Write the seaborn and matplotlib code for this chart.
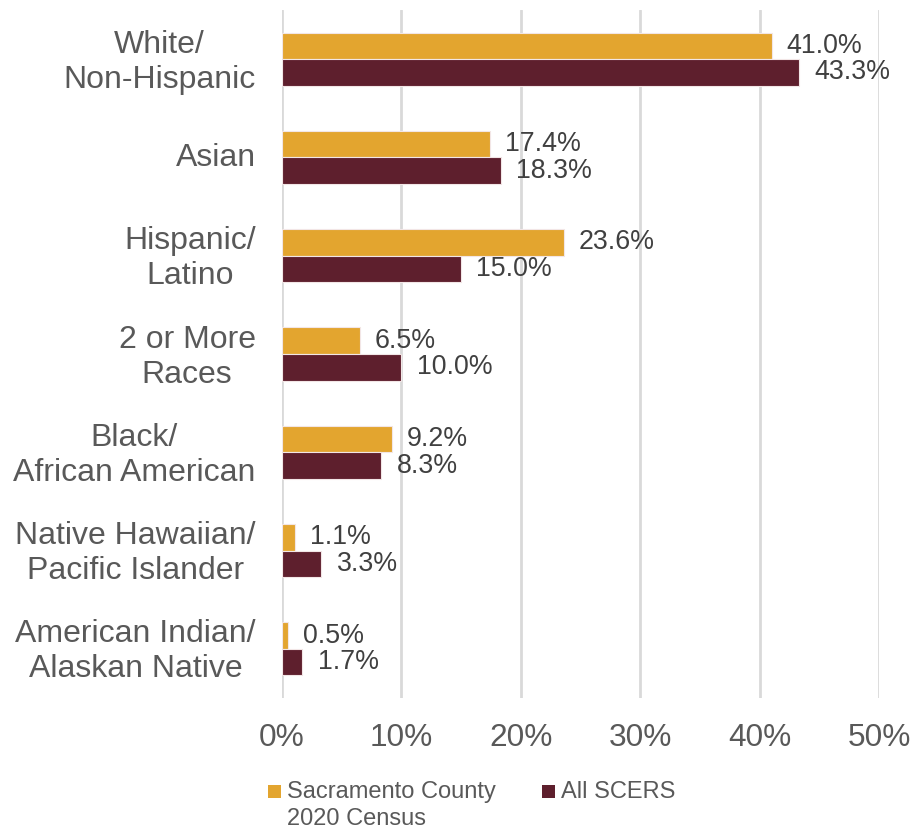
import matplotlib
matplotlib.use("Agg")
import matplotlib.pyplot as plt
import matplotlib.transforms as mtransforms
import seaborn as sns
import pandas as pd
from matplotlib.patches import Rectangle

categories = [
    "White/\nNon-Hispanic",
    "Asian",
    "Hispanic/\nLatino",
    "2 or More\nRaces",
    "Black/\nAfrican American",
    "Native Hawaiian/\nPacific Islander",
    "American Indian/\nAlaskan Native",
]
series_names = ["Sacramento County\n2020 Census", "All SCERS"]
county_pct = [41.0, 17.4, 23.6, 6.5, 9.2, 1.1, 0.5]
scers_pct = [43.3, 18.3, 15.0, 10.0, 8.3, 3.3, 1.7]
x_ticks = [0, 10, 20, 30, 40, 50]
x_tick_labels = ["0%", "10%", "20%", "30%", "40%", "50%"]

colors = ["#E3A52F", "#5E1F2D"]

df = pd.DataFrame({
    "Category": categories * 2,
    "Series": [series_names[0]] * len(categories) + [series_names[1]] * len(categories),
    "Value": county_pct + scers_pct,
})

sns.set_theme(style="white")
plt.rcParams["font.family"] = ["Liberation Sans", "DejaVu Sans"]

W, H = 913, 830
fig = plt.figure(figsize=(W / 100, H / 100), dpi=100)
ax = fig.add_axes([282 / W, 1 - 698 / H, 597 / W, 688 / H])

sns.barplot(
    data=df, x="Value", y="Category", hue="Series",
    order=categories, hue_order=series_names,
    palette=colors, saturation=1, orient="h", width=0.54, dodge=True,
    edgecolor="#F2E6E6", linewidth=0.8, legend=False, ax=ax, zorder=3,
)

for container, vals in zip(ax.containers, [county_pct, scers_pct]):
    ax.bar_label(container, labels=[f"{v:.1f}%" for v in vals],
                 padding=11, fontsize=19.3, color="#404040")

ax.set_xlim(0, 50)
ax.set_ylim(6.5, -0.5)
ax.set_xticks(x_ticks)
ax.set_xticklabels(x_tick_labels, fontsize=22.8, color="#595959")
ax.tick_params(axis="x", length=0, pad=18)
ax.tick_params(axis="y", length=0, pad=19)
lift = mtransforms.ScaledTranslation(0, 0.03, fig.dpi_scale_trans)
for lbl in ax.get_yticklabels():
    lbl.set_fontsize(23)
    lbl.set_color("#595959")
    lbl.set_multialignment("center")
    lbl.set_linespacing(1.22)
    lbl.set_transform(lbl.get_transform() + lift)
ax.set_xlabel("")
ax.set_ylabel("")
ax.grid(axis="x", color="#D9D9D9", linewidth=2, zorder=0)
ax.grid(axis="y", visible=False)
for s in ax.spines.values():
    s.set_visible(False)

# legend drawn below the plot: colour square + label for each series
legend_items = [(268, series_names[0], colors[0]), (542, series_names[1], colors[1])]
for px, label, col in legend_items:
    fig.patches.append(Rectangle((px / W, 1 - 798 / H), 13 / W, 13 / H,
                                 transform=fig.transFigure, facecolor=col,
                                 edgecolor="none"))
    fig.text((px + 19) / W, 1 - 781 / H, label, fontsize=17, color="#595959",
             va="top", ha="left", linespacing=1.3)

fig.savefig("out.png", dpi=100)
